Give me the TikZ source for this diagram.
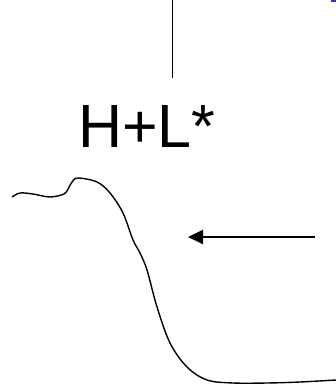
\documentclass[tikz,border=0pt]{standalone}
\usepackage{fontspec}
\setmainfont{Liberation Sans}
\usetikzlibrary{arrows.meta, positioning}
\definecolor{markblue}{RGB}{51,51,204}

\begin{document}
\begin{tikzpicture}[
        x=1pt, y=-1pt,
        tone/.style={font=\fontsize{61}{61}\selectfont, inner sep=0pt, anchor=base west},
        tick/.style={line width=1pt},
        contour/.style={line width=1.4pt},
        arrow/.style={-{Triangle[length=15pt, width=14pt]}, line width=2pt}
    ]
    \useasboundingbox (0,0) rectangle (336,385);

    % Nodes
    \node[tone] (label) at (78,147) {H+L*};
    \coordinate (ticktop) at (172,0);
    \coordinate (tickbottom) at (172,78);
    \coordinate (arrowtail) at (315,237);
    \coordinate (arrowtip) at (188,237);
    \fill[markblue] (331,0) rectangle (336,2);

    % Lines
    \draw[tick] (ticktop) -- (tickbottom);
    \draw[contour] plot[smooth, tension=0.55] coordinates {
        (12,197) (20,193) (33,194) (50,197) (64,194) (68,189) (72,182)
        (78,178) (97,182) (110,193) (123,213) (133,240) (140,253)
        (147,270) (157,307) (170,343) (187,367) (207,380) (233,383)
        (267,383) (300,382) (336,380)};
    \draw[arrow] (arrowtail) -- (arrowtip);

\end{tikzpicture}
\end{document}
